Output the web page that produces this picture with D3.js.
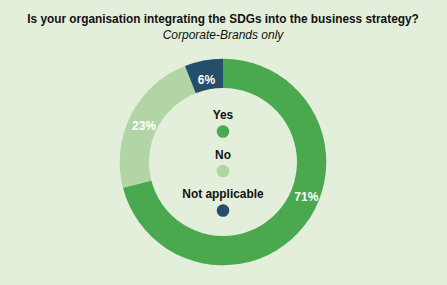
<!DOCTYPE html>
<html><head><meta charset="utf-8">
<script src="https://cdn.jsdelivr.net/npm/d3@7"></script>
<style>html,body{margin:0;padding:0;background:#e3eedb;}svg{display:block;}</style>
</head><body>
<svg id="c" width="447" height="285"></svg>
<script>
const categories = ["Yes", "No", "Not applicable"];
const values = [71, 23, 6];
const colors = ["#4aa94f", "#b1d5a4", "#254e6b"];
const title = "Is your organisation integrating the SDGs into the business strategy?";
const subtitle = "Corporate-Brands only";

const W = 447, H = 285;
const svg = d3.select("#c");
svg.append("rect").attr("width", W).attr("height", H).attr("fill", "#e3eedb");

const font = "'Liberation Sans', Arial, Helvetica, sans-serif";
svg.append("text").attr("x", 223).attr("y", 23).attr("text-anchor", "middle")
  .attr("font-family", font).attr("font-weight", "bold").attr("font-size", 11.85)
  .attr("fill", "#111").text(title);
svg.append("text").attr("x", 223).attr("y", 39).attr("text-anchor", "middle")
  .attr("font-family", font).attr("font-style", "italic").attr("font-size", 12)
  .attr("fill", "#111").text(subtitle);

const cx = 223, cy = 162, R = 103.3, r = 74;
const data = categories.map((c, i) => ({cat: c, v: values[i], color: colors[i]}));
const pie = d3.pie().value(d => d.v).sort(null);
const arc = d3.arc().innerRadius(r).outerRadius(R);
const g = svg.append("g").attr("transform", `translate(${cx},${cy})`);
const arcs = pie(data);
g.selectAll("path").data(arcs).join("path")
  .attr("d", arc).attr("fill", d => d.data.color);

const labelAngleShift = [-0.312, 0, 0];
g.selectAll("text.lbl").data(arcs).join("text").attr("class", "lbl")
  .attr("transform", (d, i) => {
    const a = (d.startAngle + d.endAngle) / 2 + labelAngleShift[i];
    const m = (r + R) / 2;
    return `translate(${m * Math.sin(a)},${-m * Math.cos(a)})`;
  })
  .attr("text-anchor", "middle").attr("dy", "0.72em")
  .attr("font-family", font).attr("font-weight", "bold").attr("font-size", 12)
  .attr("fill", "#fff").text(d => d.data.v + "%");

const legY = d3.scalePoint().domain(categories).range([115, 194]);
const leg = svg.append("g");
categories.forEach((c, i) => {
  leg.append("text").attr("x", cx).attr("y", legY(c)).attr("dy", "0.36em")
    .attr("text-anchor", "middle").attr("font-family", font).attr("font-weight", "bold")
    .attr("font-size", 11.9).attr("fill", "#111").text(c);
  leg.append("circle").attr("cx", cx).attr("cy", legY(c) + 16.5).attr("r", 6.3).attr("fill", colors[i]);
});
</script>
</body></html>
